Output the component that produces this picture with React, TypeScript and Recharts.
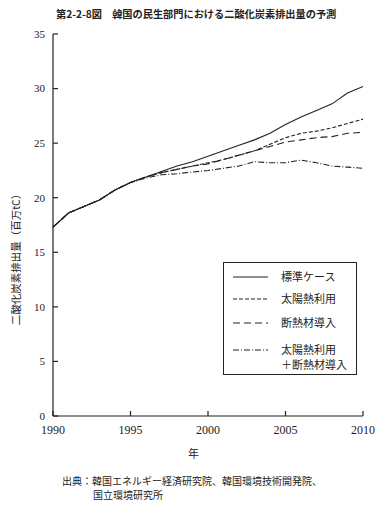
import { LineChart, Line, XAxis, YAxis } from "recharts"

const years = [1990, 1991, 1992, 1993, 1994, 1995, 1996, 1997, 1998, 1999, 2000, 2001, 2002, 2003, 2004, 2005, 2006, 2007, 2008, 2009, 2010]
const standard = [17.3, 18.6, 19.2, 19.8, 20.7, 21.4, 21.9, 22.4, 22.9, 23.3, 23.8, 24.3, 24.8, 25.3, 25.9, 26.7, 27.4, 28.0, 28.6, 29.6, 30.2]
const solar = [17.3, 18.6, 19.2, 19.8, 20.7, 21.4, 21.9, 22.3, 22.6, 22.9, 23.2, 23.5, 23.9, 24.3, 24.9, 25.5, 25.9, 26.1, 26.4, 26.8, 27.2]
const insulation = [17.3, 18.6, 19.2, 19.8, 20.7, 21.4, 21.9, 22.3, 22.6, 22.9, 23.1, 23.5, 23.9, 24.3, 24.7, 25.1, 25.3, 25.5, 25.6, 25.9, 26.0]
const combined = [17.3, 18.6, 19.2, 19.8, 20.7, 21.4, 21.8, 22.1, 22.2, 22.35, 22.5, 22.7, 22.9, 23.3, 23.2, 23.2, 23.45, 23.2, 22.9, 22.8, 22.7]

const xTicks = [1990, 1995, 2000, 2005, 2010]
const yTicks = [0, 5, 10, 15, 20, 25, 30, 35]

const series = [
  { key: "standard", name: "標準ケース", dash: undefined },
  { key: "solar", name: "太陽熱利用", dash: "4 2" },
  { key: "insulation", name: "断熱材導入", dash: "7 4" },
  { key: "combined", name: "太陽熱利用\n＋断熱材導入", dash: "6 2 1 2" },
]

const data = years.map((year, i) => ({
  year,
  standard: standard[i],
  solar: solar[i],
  insulation: insulation[i],
  combined: combined[i],
}))

const ink = "#222"
const serif = "'Liberation Serif', 'DejaVu Serif', serif"
const jp = "'Noto Sans CJK JP', sans-serif"

// legend box drawn over the plot, outside recharts' layout
function LegendBox() {
  return (
    <div
      style={{
        position: "absolute",
        left: 223,
        top: 262,
        width: 134,
        height: 113,
        border: `1px solid ${ink}`,
        boxSizing: "border-box",
        background: "#fff",
        fontFamily: jp,
        fontSize: 11,
        color: ink,
      }}
    >
      {series.map((s, i) => {
        const top = [14, 36, 60, 87][i]
        const lines = s.name.split("\n")
        return (
          <div key={s.key} style={{ position: "absolute", left: 0, top: top - 8, width: "100%" }}>
            <svg width={40} height={16} style={{ position: "absolute", left: 8, top: 0 }}>
              <line x1={1} y1={8} x2={36} y2={8} stroke={ink} strokeWidth={1.1} strokeDasharray={s.dash} />
            </svg>
            <div style={{ position: "absolute", left: 57, top: 0, lineHeight: "15px", whiteSpace: "nowrap" }}>
              {lines.map((l) => (
                <div key={l}>{l}</div>
              ))}
            </div>
          </div>
        )
      })}
    </div>
  )
}

export default function App() {
  return (
    <div style={{ position: "absolute", left: 0, top: 0, width: 386, height: 507, background: "#fff" }}>
      <div
        style={{
          position: "absolute",
          left: 56,
          top: 6,
          fontFamily: jp,
          fontWeight: 700,
          fontSize: 10.2,
          color: ink,
          whiteSpace: "nowrap",
        }}
      >
        第2-2-8図　韓国の民生部門における二酸化炭素排出量の予測
      </div>

      <LineChart width={386} height={507} data={data} margin={{ top: 34, right: 23, bottom: 61, left: 0 }}>
        <XAxis
          dataKey="year"
          type="number"
          domain={[1990, 2010]}
          ticks={xTicks}
          interval={0}
          height={30}
          tickSize={-5}
          tickMargin={14}
          axisLine={{ stroke: ink, strokeWidth: 1.2 }}
          tickLine={{ stroke: ink, strokeWidth: 1.2 }}
          tick={{ fill: ink, fontFamily: serif, fontSize: 12 }}
        />
        <YAxis
          type="number"
          domain={[0, 35]}
          ticks={yTicks}
          interval={0}
          width={53}
          tickSize={-5}
          tickMargin={13}
          axisLine={{ stroke: ink, strokeWidth: 1.2 }}
          tickLine={{ stroke: ink, strokeWidth: 1.2 }}
          tick={{ fill: ink, fontFamily: serif, fontSize: 11 }}
        />
        {series.map((s) => (
          <Line
            key={s.key}
            dataKey={s.key}
            name={s.name}
            type="linear"
            stroke={ink}
            strokeWidth={1.1}
            strokeDasharray={s.dash}
            dot={false}
            isAnimationActive={false}
          />
        ))}
      </LineChart>

      <LegendBox />

      <div
        style={{
          position: "absolute",
          left: 15,
          top: 257,
          transform: "translate(-50%, -50%) rotate(-90deg)",
          fontFamily: jp,
          fontSize: 10.5,
          color: ink,
          whiteSpace: "nowrap",
        }}
      >
        二酸化炭素排出量（百万tC）
      </div>

      <div style={{ position: "absolute", left: 188, top: 445, fontFamily: jp, fontSize: 11, color: ink }}>年</div>

      <div style={{ position: "absolute", left: 62, top: 474, fontFamily: jp, fontSize: 10, color: ink, lineHeight: "13.5px", whiteSpace: "nowrap" }}>
        <div>出典：韓国エネルギー経済研究院、韓国環境技術開発院、</div>
        <div style={{ paddingLeft: 31 }}>国立環境研究所</div>
      </div>
    </div>
  )
}
